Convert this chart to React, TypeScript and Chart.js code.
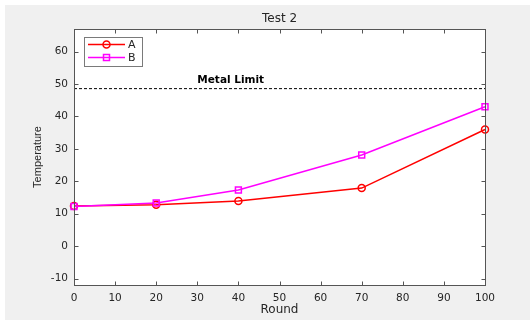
import React, { useEffect, useRef } from "react";
import { Chart, registerables } from "chart.js";

Chart.register(...registerables);

const rounds = [0, 20, 40, 70, 100];
const seriesA = [12.4, 12.8, 13.9, 17.9, 36.0];
const seriesB = [12.2, 13.3, 17.3, 28.1, 43.0];
const metalLimit = 48.6;
const xTicks = [0, 10, 20, 30, 40, 50, 60, 70, 80, 90, 100];
const yTicks = [-10, 0, 10, 20, 30, 40, 50, 60];
const titleText = "Test 2";
const xLabel = "Round";
const yLabel = "Temperature";
const limitLabel = "Metal Limit";
const legendNames = ["A", "B"];

const TXT = "#262626";
const FONT = "'DejaVu Sans', sans-serif";

export default function App() {
  const ref = useRef<HTMLCanvasElement | null>(null);

  useEffect(() => {
    const canvas = ref.current;
    if (!canvas) return;

    const decor = {
      id: "matlabDecor",
      beforeDraw(chart: any) {
        const { ctx, chartArea: a } = chart;
        ctx.save();
        ctx.fillStyle = "#ffffff";
        ctx.fillRect(0, 0, chart.width, chart.height);
        ctx.fillStyle = "#f0f0f0";
        ctx.fillRect(5, 5, chart.width - 5, chart.height - 5);
        ctx.fillStyle = "#ffffff";
        ctx.fillRect(a.left, a.top, a.right - a.left, a.bottom - a.top);
        ctx.restore();
      },
      afterDatasetsDraw(chart: any) {
        const { ctx, chartArea: a } = chart;
        const xs = chart.scales.x;
        const ys = chart.scales.y;
        ctx.save();
        ctx.strokeStyle = "#555555";
        ctx.lineWidth = 1;
        const L = Math.round(a.left) + 0.5;
        const R = Math.round(a.right) + 0.5;
        const T = Math.round(a.top) + 0.5;
        const B = Math.round(a.bottom) + 0.5;
        ctx.strokeRect(L, T, R - L, B - T);
        ctx.beginPath();
        const tl = 4;
        xTicks.forEach((v) => {
          const px = Math.round(xs.getPixelForValue(v)) + 0.5;
          ctx.moveTo(px, B);
          ctx.lineTo(px, B - tl);
          ctx.moveTo(px, T);
          ctx.lineTo(px, T + tl);
        });
        yTicks.forEach((v) => {
          const py = Math.round(ys.getPixelForValue(v)) + 0.5;
          ctx.moveTo(L, py);
          ctx.lineTo(L + tl, py);
          ctx.moveTo(R, py);
          ctx.lineTo(R - tl, py);
        });
        ctx.stroke();

        ctx.fillStyle = "#000000";
        ctx.font = `bold 10.5px ${FONT}`;
        ctx.textAlign = "left";
        ctx.textBaseline = "middle";
        ctx.fillText(limitLabel, xs.getPixelForValue(30), ys.getPixelForValue(51.2));

        const lx = a.left + 10, ly = a.top + 7.5, lw = 58, lh = 29;
        ctx.fillStyle = "#ffffff";
        ctx.fillRect(lx, ly, lw, lh);
        ctx.strokeStyle = "#7a7a7a";
        ctx.lineWidth = 1;
        ctx.strokeRect(Math.round(lx) + 0.5, Math.round(ly) + 0.5, lw, lh);
        chart.data.datasets.slice(0, 2).forEach((ds: any, i: number) => {
          const yy = ly + 8 + i * 13;
          ctx.strokeStyle = ds.borderColor;
          ctx.lineWidth = 1.5;
          ctx.beginPath();
          ctx.moveTo(lx + 4, yy);
          ctx.lineTo(lx + 41, yy);
          ctx.stroke();
          ctx.beginPath();
          if (ds.pointStyle === "circle") {
            ctx.arc(lx + 22.5, yy, 3.5, 0, Math.PI * 2);
          } else {
            ctx.rect(lx + 19.5, yy - 3, 6, 6);
          }
          ctx.stroke();
          ctx.fillStyle = TXT;
          ctx.font = `11px ${FONT}`;
          ctx.textAlign = "left";
          ctx.textBaseline = "middle";
          ctx.fillText(legendNames[i], lx + 44, yy + 0.5);
        });
        ctx.restore();
      },
      afterDraw(chart: any) {
        const { ctx, chartArea: a } = chart;
        ctx.save();
        ctx.fillStyle = TXT;
        ctx.textAlign = "center";
        ctx.textBaseline = "middle";
        const cx = (a.left + a.right) / 2;
        ctx.font = `12px ${FONT}`;
        ctx.fillText(titleText, cx, 19);
        ctx.fillText(xLabel, cx, 310);
        ctx.translate(38, (a.top + a.bottom) / 2);
        ctx.rotate(-Math.PI / 2);
        ctx.font = `11px 'Liberation Sans', Arial, sans-serif`;
        ctx.fillText(yLabel, 0, 0);
        ctx.restore();
      },
    };

    const chart = new Chart(canvas, {
      type: "line",
      data: {
        datasets: [
          {
            label: legendNames[0],
            data: rounds.map((x, i) => ({ x, y: seriesA[i] })),
            borderColor: "#ff0000",
            borderWidth: 1.5,
            pointStyle: "circle",
            pointRadius: 3.5,
            pointBorderWidth: 1.5,
            pointBackgroundColor: "rgba(0,0,0,0)",
            pointBorderColor: "#ff0000",
            clip: false,
            order: 1,
          } as any,
          {
            label: legendNames[1],
            data: rounds.map((x, i) => ({ x, y: seriesB[i] })),
            borderColor: "#ff00ff",
            borderWidth: 1.5,
            pointStyle: "rect",
            pointRadius: 4.2,
            pointBorderWidth: 1.5,
            pointBackgroundColor: "rgba(0,0,0,0)",
            pointBorderColor: "#ff00ff",
            clip: false,
            order: 0,
          } as any,
          {
            label: "limit",
            data: [
              { x: xTicks[0], y: metalLimit },
              { x: xTicks[xTicks.length - 1], y: metalLimit },
            ],
            borderColor: "#000000",
            borderWidth: 1,
            borderDash: [3, 2],
            pointRadius: 0,
            order: 2,
          } as any,
        ],
      },
      options: {
        animation: false,
        responsive: false,
        events: [],
        layout: { padding: { left: 0, right: 45, top: 29, bottom: 0 } },
        plugins: {
          legend: { display: false },
          tooltip: { enabled: false },
          title: { display: false },
        },
        scales: {
          x: {
            type: "linear",
            min: 0,
            max: 100,
            grid: { display: false, drawTicks: false },
            border: { display: false },
            afterBuildTicks: (s: any) => {
              s.ticks = xTicks.map((v) => ({ value: v }));
            },
            afterFit: (s: any) => {
              s.height = 35;
            },
            ticks: {
              padding: 7,
              color: TXT,
              font: { family: FONT, size: 10.5 },
              maxRotation: 0,
              autoSkip: false,
            },
          },
          y: {
            type: "linear",
            min: -12,
            max: 67,
            grid: { display: false, drawTicks: false },
            border: { display: false },
            afterBuildTicks: (s: any) => {
              s.ticks = yTicks.map((v) => ({ value: v }));
            },
            afterFit: (s: any) => {
              s.width = 74;
            },
            ticks: {
              padding: 6,
              color: TXT,
              font: { family: FONT, size: 10.5 },
              autoSkip: false,
            },
          },
        },
      } as any,
      plugins: [decor],
    });

    return () => chart.destroy();
  }, []);

  return (
    <div style={{ position: "absolute", left: 0, top: 0, width: 530, height: 320, background: "#f0f0f0" }}>
      <canvas ref={ref} width={530} height={320} style={{ width: 530, height: 320, display: "block" }} />
    </div>
  );
}
